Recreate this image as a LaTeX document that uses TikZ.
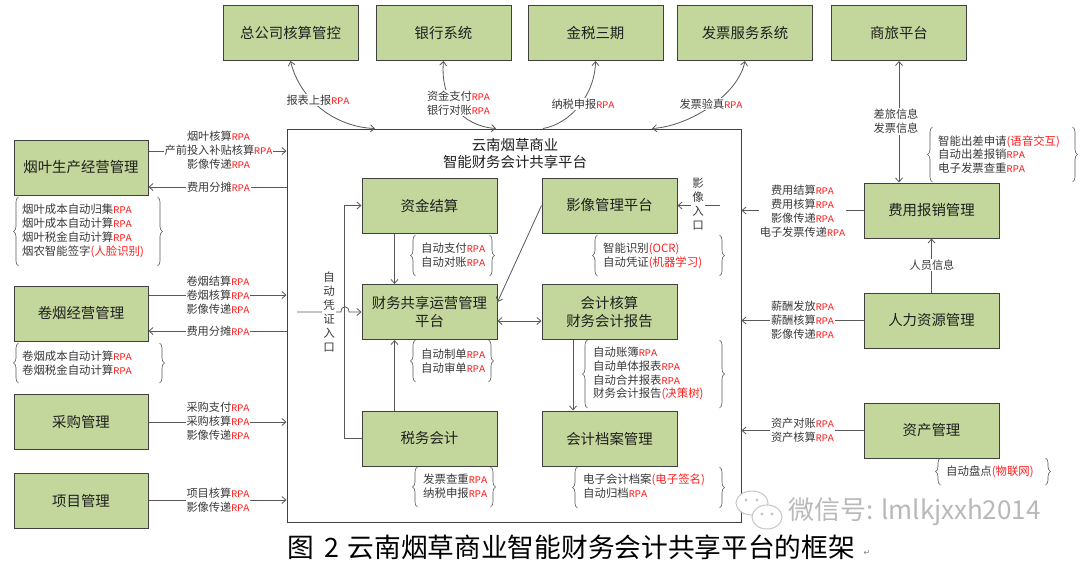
\documentclass[tikz,border=0pt]{standalone}
\usepackage{fontspec}
\setmainfont{Noto Sans CJK SC}
\newfontfamily\rpafont[Scale=0.9]{Liberation Mono}
\newfontfamily\symfont{DejaVu Sans}
\usetikzlibrary{arrows.meta,decorations.pathreplacing,calc}

\definecolor{boxgreen}{HTML}{C3D69B}
\definecolor{boxline}{HTML}{404040}
\definecolor{conn}{HTML}{595959}
\definecolor{txt}{HTML}{1F1F1F}
\definecolor{lbl}{HTML}{3A3A3A}
\definecolor{rpared}{HTML}{FF2020}

\newcommand\rpa{{\rpafont\color{rpared}RPA}}
\newcommand\rd[1]{{\color{rpared}#1}}
\newcommand\notebr[4]{%
  \draw[br] (#1+2.5,#4) -- (#1+2.5,#2);
  \draw[br] (#3-2.5,#2) -- (#3-2.5,#4);}

\begin{document}
\begin{tikzpicture}[x=1pt,y=-1pt,
  box/.style={draw=boxline, fill=boxgreen, line width=1pt, minimum width=135pt,
    minimum height=55pt, inner sep=0pt, align=center, text=txt,
    font=\fontsize{14.4}{18}\selectfont},
  lab/.style={fill=white, inner sep=1pt, align=center, text=lbl,
    font=\fontsize{11.2}{14}\selectfont},
  note/.style={anchor=west, inner sep=0pt, align=left, text=lbl,
    font=\fontsize{11.4}{13.8}\selectfont},
  vlab/.style={fill=white, inner sep=1pt, align=center, text=lbl,
    font=\fontsize{11.5}{14}\selectfont},
  arr/.style={draw=conn, line width=0.8pt, -{Straight Barb[length=4pt,width=7pt]}},
  arr2/.style={draw=conn, line width=0.8pt,
    {Straight Barb[length=4pt,width=7pt]}-{Straight Barb[length=4pt,width=7pt]}},
  br/.style={draw=conn, line width=0.6pt, decorate, decoration={brace, amplitude=5pt}}
]
\fill[white] (0,0) rectangle (1080,563);
\useasboundingbox (0,0) rectangle (1080,563);

% platform
\node[draw=boxline, line width=1pt, minimum width=454pt, minimum height=393pt, inner sep=0pt] (plat) at (514,325.5) {};
\node[font=\fontsize{14.4}{17}\selectfont, align=center, text=txt] (title) at (515,153.5) {云南烟草商业\\智能财务会计共享平台};

% top boxes
\node[box] (zgs) at (290.5,33) {总公司核算管控};
\node[box] (yh) at (443.5,33) {银行系统};
\node[box] (js) at (595.5,33) {金税三期};
\node[box] (fp) at (745,33) {发票服务系统};
\node[box] (sl) at (899,33) {商旅平台};

% left boxes
\node[box, minimum width=134pt] (yy) at (81,167.5) {烟叶生产经营管理};
\node[box, minimum width=134pt] (jy) at (81,313.5) {卷烟经营管理};
\node[box, minimum width=134pt] (cg) at (81,421.5) {采购管理};
\node[box, minimum width=134pt] (xm) at (81,500.5) {项目管理};

% inner boxes
\node[box] (zj) at (429.5,205.5) {资金结算};
\node[box] (yx) at (609.5,205.5) {影像管理平台};
\node[box] (cw) at (429.5,312) {财务共享运营管理\\平台};
\node[box] (kj) at (609.5,312) {会计核算\\财务会计报告};
\node[box] (sw) at (429.5,438.5) {税务会计};
\node[box] (da) at (609.5,438.5) {会计档案管理};

% right boxes
\node[box] (fy) at (931.5,210.5) {费用报销管理};
\node[box] (rl) at (931.5,320.5) {人力资源管理};
\node[box] (zc) at (931.5,430.5) {资产管理};

% top connectors
\draw[arr2] (zgs.south) .. controls (300,100) and (335,127) .. (375,0 |- plat.north);
\draw[arr2] (yh.south) .. controls (440,100) and (462,126) .. (496,0 |- plat.north);
\draw[arr] (543,0 |- plat.north) .. controls (570,124) and (595,95) .. (js.south);
\draw[arr2] (fp.south) .. controls (738,95) and (690,126) .. (652,0 |- plat.north);
\node[lab] (t1) at (318,100) {报表上报\rpa};
\node[lab] (t2) at (458.5,103) {资金支付\rpa\\银行对账\rpa};
\node[lab] (t3) at (583,104) {纳税申报\rpa};
\node[lab] (t4) at (711,104) {发票验真\rpa};

% left connectors
\draw[arr] (yy.east |- 0,151) -- (plat.west |- 0,151);
\draw[arr] (plat.west |- 0,187) -- (yy.east |- 0,187);
\draw[arr] (jy.east |- 0,295) -- (plat.west |- 0,295);
\draw[arr] (plat.west |- 0,331) -- (jy.east |- 0,331);
\draw[arr] (cg.east |- 0,422) -- (plat.west |- 0,422);
\draw[arr] (xm.east |- 0,500) -- (plat.west |- 0,500);
\node[lab] (l1) at (218.5,150.5) {烟叶核算\rpa\\产前投入补贴核算\rpa\\影像传递\rpa};
\node[lab] (l2) at (218.5,187) {费用分摊\rpa};
\node[lab] (l3) at (218,295) {卷烟结算\rpa\\卷烟核算\rpa\\影像传递\rpa};
\node[lab] (l4) at (218,331) {费用分摊\rpa};
\node[lab] (l5) at (218,421.5) {采购支付\rpa\\采购核算\rpa\\影像传递\rpa};
\node[lab] (l6) at (218,500) {项目核算\rpa\\影像传递\rpa};

% right connectors
\draw[arr] (fy.west) -- (fy.west -| plat.east);
\draw[arr] (rl.west) -- (rl.west -| plat.east);
\draw[arr] (zc.west) -- (zc.west -| plat.east);
\draw[arr2] (sl.south) -- (sl.south |- fy.north);
\draw[arr] (rl.north) -- (fy.south);
\node[lab] (r1) at (802.5,211) {费用结算\rpa\\费用核算\rpa\\影像传递\rpa\\电子发票传递\rpa};
\node[lab] (r2) at (802.5,320) {薪酬发放\rpa\\薪酬核算\rpa\\影像传递\rpa};
\node[lab] (r3) at (802.5,430) {资产对账\rpa\\资产核算\rpa};
\node[lab] (r4) at (896,121.5) {差旅信息\\发票信息};
\node[lab] (r5) at (932,265) {人员信息};

% inner connectors
\draw[arr] ([xshift=-35pt]zj.south) -- ([xshift=-35pt]cw.north);
\draw[arr] ([xshift=-35pt]sw.north) -- ([xshift=-35pt]cw.south);
\draw[arr] ([xshift=-36.5pt]kj.south) -- ([xshift=-36.5pt]da.north);
\draw[arr2] ([yshift=-9pt]cw.east) -- ([yshift=-9pt]kj.west);
\draw[arr] (yx.west) -- ([yshift=-18pt]cw.north east);
\draw[arr] (sw.west) -- ++(-17,0) |- (zj.west);
\coordinate (vin) at (297,312);
\draw[arr] (vin) -- (341,312) .. controls (341,305) and (349,305) .. (349,312) -- (cw.west |- 0,312);
\node[vlab] (vt1) at (329,311.5) {自\\动\\凭\\证\\入\\口};
\coordinate (yin) at (720,205.5);
\draw[arr] (yin) -- (yx.east);
\node[vlab] (vt2) at (698,204.5) {影\\像\\入\\口};

% notes with braces
\notebr{16}{197}{160}{266}
\node[note] (n1) at (22,231) {烟叶成本自动归集\rpa\\烟叶成本自动计算\rpa\\烟叶税金自动计算\rpa\\烟农智能签字\rd{(人脸识别)}};
\notebr{16}{343}{162}{383}
\node[note] (n2) at (22,363) {卷烟成本自动计算\rpa\\卷烟税金自动计算\rpa};
\notebr{413}{235}{492}{276}
\node[note] (n3) at (421,255.5) {自动支付\rpa\\自动对账\rpa};
\notebr{595}{235}{722}{276}
\node[note] (n4) at (603,255.5) {智能识别\rd{(OCR)}\\自动凭证\rd{(机器学习)}};
\notebr{413}{340}{491}{382}
\node[note] (n5) at (421,361) {自动制单\rpa\\自动审单\rpa};
\notebr{585}{340}{722}{408}
\node[note] (n6) at (593,373.5) {自动账簿\rpa\\自动单体报表\rpa\\自动合并报表\rpa\\财务会计报告\rd{(决策树)}};
\notebr{415}{467}{493}{507}
\node[note] (n7) at (423,486.5) {发票查重\rpa\\纳税申报\rpa};
\notebr{575}{467}{722}{508}
\node[note] (n8) at (583,486.5) {电子会计档案\rd{(电子签名)}\\自动归档\rpa};
\notebr{930}{127}{1075}{182}
\node[note] (n9) at (938,154.5) {智能出差申请\rd{(语音交互)}\\自动出差报销\rpa\\电子发票查重\rpa};
\notebr{938}{458}{1048}{485}
\node[note] (n10) at (946,471.5) {自动盘点\rd{(物联网)}};

% watermark
\draw[gray!45, line width=1pt, fill=white] (752,503) ellipse [x radius=16pt, y radius=12pt];
\fill[gray!45] (746,500) circle (1.6pt) (757,500) circle (1.6pt);
\draw[gray!45, line width=1pt, fill=white] (767,517) ellipse [x radius=15pt, y radius=12pt];
\fill[gray!45] (762,514) circle (1.6pt) (772,514) circle (1.6pt);
\node[anchor=west, inner sep=0pt, text=gray!55, font=\fontsize{26}{28}\selectfont] (wm) at (788,512) {微信号: lmlkjxxh2014};

% caption
\node[anchor=west, inner sep=0pt, text=black, font=\fontsize{26.7}{30}\selectfont] (cap) at (287,547.5) {图\hspace{11pt}2\hspace{8pt}云南烟草商业智能财务会计共享平台的框架};
\node[inner sep=0pt, text=gray, font=\symfont\fontsize{8}{8}\selectfont] (pm) at (867,553) {↵};
\end{tikzpicture}
\end{document}
